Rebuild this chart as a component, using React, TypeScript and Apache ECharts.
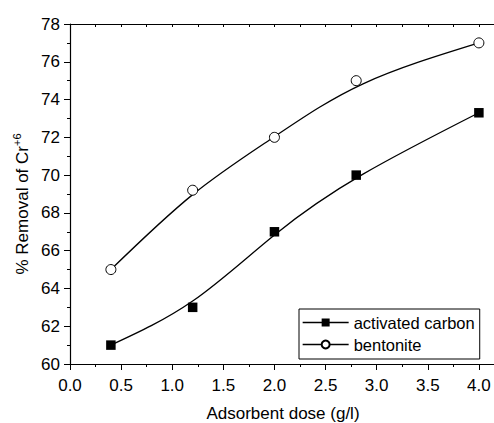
import React, { useEffect, useRef } from "react";
import * as echarts from "echarts";

const doses = [0.4, 1.2, 2.0, 2.8, 4.0];
const activatedCarbon = [61, 63, 67, 70, 73.3];
const bentonite = [65, 69.2, 72, 75, 77];
const seriesNames = ["activated carbon", "bentonite"];
const xTitle = "Adsorbent dose (g/l)";
const yTitle = "% Removal of Cr{sup|+6}";

const FONT = "'Liberation Sans', Arial, Helvetica, sans-serif";

// Uniform cubic B-spline through the data points used as control points
// (ends clamped with phantom points), converted to Bezier path data in pixel space.
function bsplinePath(pts: number[][]): string {
  const n = pts.length;
  const first = [2 * pts[0][0] - pts[1][0], 2 * pts[0][1] - pts[1][1]];
  const last = [2 * pts[n - 1][0] - pts[n - 2][0], 2 * pts[n - 1][1] - pts[n - 2][1]];
  const q = [first, ...pts, last];
  let d = "";
  for (let i = 1; i < q.length - 2; i++) {
    const a = q[i - 1], b = q[i], c = q[i + 1], e = q[i + 2];
    const b0 = [(a[0] + 4 * b[0] + c[0]) / 6, (a[1] + 4 * b[1] + c[1]) / 6];
    const b1 = [(2 * b[0] + c[0]) / 3, (2 * b[1] + c[1]) / 3];
    const b2 = [(b[0] + 2 * c[0]) / 3, (b[1] + 2 * c[1]) / 3];
    const b3 = [(b[0] + 4 * c[0] + e[0]) / 6, (b[1] + 4 * c[1] + e[1]) / 6];
    if (i === 1) d += `M${b0[0]} ${b0[1]}`;
    d += ` C${b1[0]} ${b1[1]} ${b2[0]} ${b2[1]} ${b3[0]} ${b3[1]}`;
  }
  return d;
}

function curveSeries(name: string, ys: number[]) {
  return {
    name,
    type: "custom",
    xAxisIndex: 0,
    yAxisIndex: 0,
    z: 2,
    silent: true,
    data: doses.map((d, i) => [d, ys[i]]),
    encode: { x: 0, y: 1 },
    renderItem: (params: any, api: any) => {
      if (params.dataIndex !== 0) return null;
      const pts = doses.map((d, i) => api.coord([d, ys[i]]));
      return {
        type: "path",
        shape: { pathData: bsplinePath(pts) },
        style: { stroke: "#000", lineWidth: 1.3, fill: "none" },
      };
    },
  };
}

export default function App() {
  const ref = useRef<HTMLDivElement>(null);
  useEffect(() => {
    if (!ref.current) return;
    const chart = echarts.init(ref.current, null, { renderer: "svg" });
    const axisLine = { show: true, lineStyle: { color: "#000", width: 1.2 } };
    chart.setOption({
      animation: false,
      backgroundColor: "#fff",
      textStyle: { fontFamily: FONT, color: "#000" },
      grid: { left: 70, top: 24, width: 460, height: 340, containLabel: false },
      xAxis: [
        {
          type: "value",
          position: "bottom",
          min: 0,
          max: 4.5,
          interval: 0.5,
          axisLine,
          axisTick: { show: true, inside: false, length: 6, lineStyle: { color: "#000", width: 1 } },
          minorTick: { show: true, splitNumber: 2, length: 3, lineStyle: { color: "#000", width: 1 } },
          splitLine: { show: false },
          axisLabel: {
            margin: 13,
            fontSize: 17,
            color: "#000",
            fontFamily: FONT,
            formatter: (v: number) => (v > 4.01 ? "" : v.toFixed(1)),
          },
        },
        {
          type: "value",
          position: "top",
          min: 0,
          max: 4.5,
          interval: 0.25,
          axisLine,
          axisTick: { show: true, inside: true, length: 3, lineStyle: { color: "#000", width: 1 } },
          splitLine: { show: false },
          axisLabel: { show: false },
        },
      ],
      yAxis: {
        type: "value",
        min: 60,
        max: 78,
        interval: 2,
        axisLine,
        axisTick: { show: true, inside: false, length: 6, lineStyle: { color: "#000", width: 1 } },
        minorTick: { show: true, splitNumber: 2, length: 3, lineStyle: { color: "#000", width: 1 } },
        splitLine: { show: false },
        axisLabel: { margin: 10, fontSize: 17, color: "#000", fontFamily: FONT },
      },
      legend: {
        orient: "vertical",
        left: 299,
        top: 309,
        padding: [5, 5, 6, 3],
        borderColor: "#000",
        borderWidth: 1,
        itemWidth: 46,
        itemHeight: 10,
        itemGap: 5,
        textStyle: { fontSize: 16.5, color: "#000", fontFamily: FONT },
        lineStyle: { color: "#000", width: 1.3, opacity: 1 },
        data: seriesNames,
      },
      graphic: [
        {
          type: "text",
          x: 283,
          y: 413,
          style: {
            text: xTitle,
            fontSize: 17,
            fontFamily: FONT,
            fill: "#000",
            align: "center",
            verticalAlign: "middle",
          },
        },
        {
          type: "text",
          x: 22,
          y: 204,
          rotation: Math.PI / 2,
          style: {
            text: yTitle,
            fontSize: 17,
            fontFamily: FONT,
            fill: "#000",
            align: "center",
            verticalAlign: "middle",
            lineHeight: 22,
            rich: {
              sup: { fontSize: 11, fontFamily: FONT, fill: "#000", verticalAlign: "top", lineHeight: 22 },
            },
          },
        },
      ],
      series: [
        curveSeries("activated carbon curve", activatedCarbon),
        curveSeries("bentonite curve", bentonite),
        {
          name: seriesNames[0],
          type: "line",
          xAxisIndex: 0,
          data: doses.map((d, i) => [d, activatedCarbon[i]]),
          symbol: "rect",
          symbolSize: 9.5,
          lineStyle: { color: "#000", width: 1.3, opacity: 0 },
          itemStyle: { color: "#000", borderColor: "#000", borderWidth: 0 },
          z: 3,
        },
        {
          name: seriesNames[1],
          type: "line",
          xAxisIndex: 0,
          data: doses.map((d, i) => [d, bentonite[i]]),
          symbol: "circle",
          symbolSize: 10,
          lineStyle: { color: "#000", width: 1.3, opacity: 0 },
          itemStyle: { color: "#fff", borderColor: "#000", borderWidth: 1 },
          z: 3,
        },
      ],
    });
    return () => chart.dispose();
  }, []);
  return (
    <div
      style={{
        position: "absolute",
        left: 0,
        top: 0,
        width: 494,
        height: 423,
        overflow: "hidden",
        background: "#fff",
      }}
    >
      <div ref={ref} style={{ width: 540, height: 423 }} />
    </div>
  );
}
